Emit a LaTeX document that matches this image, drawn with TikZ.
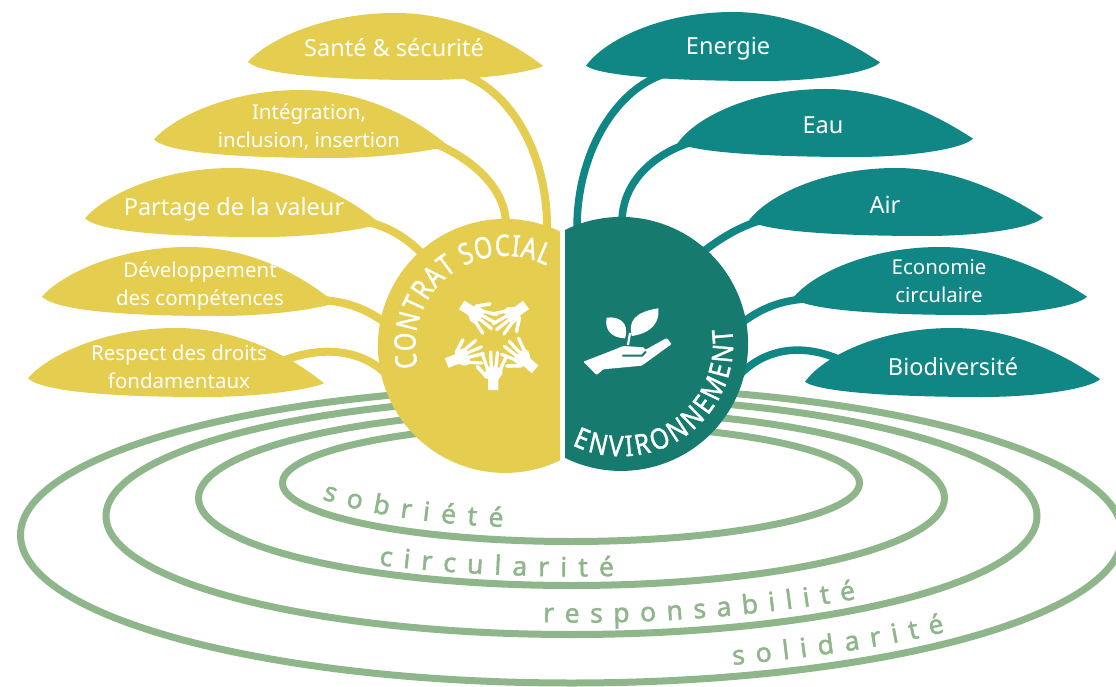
\documentclass[tikz,border=0pt]{standalone}
\usepackage{fontspec}
\usetikzlibrary{decorations.text}
\setmainfont{Noto Sans}
\newfontfamily\condf[FakeStretch=0.8,FakeBold=1.2]{Noto Sans}
\newfontfamily\condg[FakeStretch=0.86,FakeBold=1.2]{Noto Sans}
\newfontfamily\ringf[FakeBold=1.6]{Noto Sans}
\definecolor{jaune}{HTML}{E4CD4F}
\definecolor{sarcelle}{HTML}{108785}
\definecolor{sombre}{HTML}{177A6E}
\definecolor{anneau}{HTML}{8FB58B}
\newcommand{\feuille}[7]{%
  \pgfmathsetmacro\lw{#2-#1}\pgfmathsetmacro\lh{#4-#3}%
  \begin{scope}[shift={(#1,-#3)},x=\lw pt,y=-\lh pt]
    \fill[#7] (0,#5) .. controls (.06,.42) and (.25,0) .. (.5,0)
      .. controls (.72,0) and (.90,.45) .. (1,#6)
      .. controls (.97,.87) and (.80,1) .. (.6,1)
      .. controls (.30,1) and (.05,.93) .. (0,#5) -- cycle;
  \end{scope}}
\newcommand{\mainouverte}[3]{%
  \begin{scope}[shift={(#1,-#2)},rotate=#3,scale=1.06]
  \fill[white] (-4.8,0) -- (4.8,0) -- (4.8,10) -- (8.5,15) -- (8.5,21) -- (-7,22) -- (-7.5,15) -- (-4.8,10) -- cycle;
  \draw[white,line width=3.3pt,line cap=round]
    (-5.5,20) -- (-10,33) (-1.8,20) -- (-2.5,36) (2.2,20) -- (4,35.5) (6.5,19) -- (12,31);
  \draw[white,line width=3.6pt,line cap=round] (-6,12) -- (-15,22);
  \end{scope}}
\tikzset{
  anneaustyle/.style={draw=anneau,line width=7pt},
  lienj/.style={draw=jaune,line width=8pt},
  liens/.style={draw=sarcelle,line width=7.5pt},
  txtg/.style={text=white,inner sep=0pt,font=\fontsize{23.5}{28}\selectfont},
  txtp/.style={text=white,inner sep=0pt,align=center,font=\fontsize{20.5}{28.5}\selectfont},
  courbe/.style={decorate,decoration={text along path,text align={fit to path},text={#1}}}
}
\def\fa{|\ringf\fontsize{26.5}{26.5}\selectfont\color{anneau}|}
\def\fb{|\condf\fontsize{29.5}{30}\selectfont\color{white}|}
\def\fc{|\condg\fontsize{28.5}{30}\selectfont\color{white}|}
\begin{document}
\begin{tikzpicture}[x=1pt,y=1pt]
\clip (0,0) rectangle (1116,-687);
\fill[white] (0,0) rectangle (1116,-687);
% anneaux
\draw[anneaustyle] (571,-483) ellipse [x radius=288.5,y radius=58.5];
\draw[anneaustyle] (571.5,-498) ellipse [x radius=373,y radius=87.5];
\draw[anneaustyle] (571.5,-516) ellipse [x radius=465.5,y radius=118.5];
\draw[anneaustyle] (571.5,-535) ellipse [x radius=551,y radius=148];
\fill[white] (555,-200) rectangle (570,-480);
% points d'attache
\coordinate (hj1) at (547,-230); \coordinate (hj2) at (506,-225); \coordinate (hj3) at (430,-262);
\coordinate (hj4) at (392,-328); \coordinate (hj5) at (390,-378);
\coordinate (hs1) at (577,-228); \coordinate (hs2) at (622,-222); \coordinate (hs3) at (695,-258);
\coordinate (hs4) at (735,-328); \coordinate (hs5) at (735,-380);
\coordinate (fj1) at (462,-74); \coordinate (fj2) at (434,-143); \coordinate (fj3) at (368,-222);
\coordinate (fj4) at (322,-300); \coordinate (fj5) at (285,-360);
\coordinate (fs1) at (665,-74); \coordinate (fs2) at (692,-142); \coordinate (fs3) at (762,-220);
\coordinate (fs4) at (805,-299); \coordinate (fs5) at (845,-362);
% liens
\draw[lienj] (fj1) .. controls (515,-93) and (548,-160) .. (hj1);
\draw[lienj] (fj2) .. controls (475,-160) and (506,-190) .. (hj2);
\draw[lienj] (fj3) .. controls (395,-229) and (412,-242) .. (hj3);
\draw[lienj] (fj4) .. controls (352,-302) and (372,-312) .. (hj4);
\draw[lienj] (fj5) .. controls (325,-345) and (365,-350) .. (hj5);
\draw[liens] (fs1) .. controls (618,-88) and (577,-150) .. (hs1);
\draw[liens] (fs2) .. controls (650,-155) and (622,-185) .. (hs2);
\draw[liens] (fs3) .. controls (735,-228) and (715,-242) .. (hs3);
\draw[liens] (fs4) .. controls (775,-301) and (755,-312) .. (hs4);
\draw[liens] (fs5) .. controls (800,-340) and (760,-350) .. (hs5);
% feuilles
\feuille{248}{543}{13}{80}{.73}{.79}{jaune}
\feuille{154}{448}{90}{158}{.73}{.82}{jaune}
\feuille{85}{380}{168}{237}{.73}{.80}{jaune}
\feuille{42}{335}{247}{316}{.72}{.81}{jaune}
\feuille{28}{324}{328}{397}{.73}{.80}{jaune}
\feuille{586}{880}{12}{81}{.78}{.73}{sarcelle}
\feuille{678}{973}{89}{157}{.79}{.73}{sarcelle}
\feuille{749}{1043}{168}{236}{.77}{.73}{sarcelle}
\feuille{793}{1087}{247}{315}{.75}{.73}{sarcelle}
\feuille{805}{1100}{328}{397}{.78}{.74}{sarcelle}
% disques
\fill[jaune] (560,-231.5) arc[start angle=64.3,end angle=295.7,radius=127] -- cycle;
\fill[sombre] (565,-230) arc[start angle=116.2,end angle=-116.2,radius=127] -- cycle;
% textes des feuilles
\node[txtg] (sante) at (394,-48) {Santé \& sécurité};
\node[txtp] (integ) at (309,-127) {Intégration,\\inclusion, insertion};
\node[txtg] (partage) at (234,-209) {Partage de la valeur};
\node[txtp] (dev) at (200,-286) {Développement\\des compétences};
\node[txtp] (droits) at (179,-367) {Respect des droits\\fondamentaux};
\node[txtg] (energie) at (728,-49) {Energie};
\node[txtg] (eau) at (823,-125) {Eau};
\node[txtg] (air) at (885,-205) {Air};
\node[txtp] (eco) at (939,-281) {Economie\\circulaire};
\node[txtg] (bio) at (953,-367) {Biodiversité};
% textes courbes des disques
\path[courbe={\fb CONTRAT SOCIAL}] (418,-367) arc[start angle=193.6,end angle=63,radius=90];
\path[courbe={\fc ENVIRONNEMENT}] (572,-445) arc[start angle=244,end angle=368,radius=112];
% textes des anneaux
\path[courbe={\fa sobriété}] (322,-499) .. controls (375,-517) and (440,-524) .. (503,-527);
\path[courbe={\fa circularité}] (379,-565) .. controls (440,-573) and (530,-578) .. (614,-576);
\path[courbe={\fa responsabilité}] (543,-622) .. controls (640,-625) and (750,-617) .. (856,-599);
\path[courbe={\fa solidarité}] (733,-665) .. controls (805,-658) and (880,-648) .. (945,-632);
% mains
\mainouverte{493.3}{390}{0}
\mainouverte{446.7}{363}{-69}
\mainouverte{461.7}{305}{-122}
\mainouverte{526}{305}{126}
\mainouverte{535}{369.3}{49}
% main et plante
\fill[white,rounded corners=1pt] (583.3,-361.7) -- (596.7,-375) -- (603.3,-369.3) -- (641.7,-365.7)
  -- (671.7,-344) -- (666.7,-338) -- (645,-350) -- (644,-347.3) -- (623.3,-346) -- (611.7,-350.7) -- cycle;
\draw[sombre,line width=2pt] (622.3,-355.7) -- (642,-355.7) -- (646,-351.5);
\fill[white] (631.7,-336) .. controls (628,-322) and (634,-312) .. (658.3,-308.3)
  .. controls (660,-322) and (652,-333) .. (631.7,-336) -- cycle;
\fill[white] (606.7,-317.7) .. controls (618,-316) and (630,-322) .. (625,-338.3)
  .. controls (612,-338) and (604,-330) .. (606.7,-317.7) -- cycle;
\draw[white,line width=2.2pt] (628,-345) -- (630,-333);
\end{tikzpicture}
\end{document}
